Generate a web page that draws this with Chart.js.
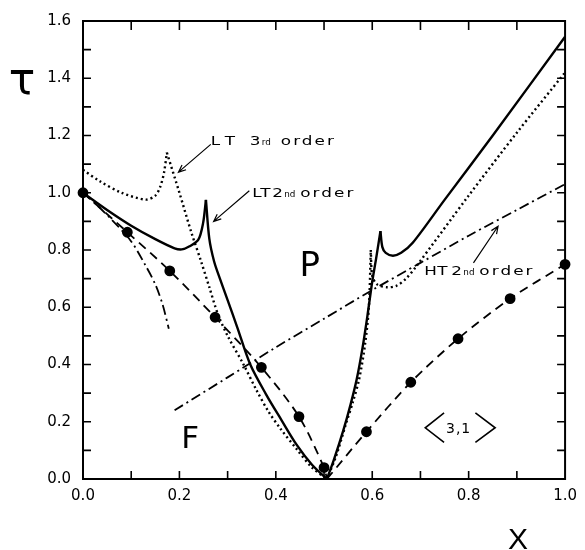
<!DOCTYPE html>
<html lang="en">
<head>
  <meta charset="UTF-8" />
  <title>Phase diagram &lt;3,1&gt;</title>
  <script src="https://cdn.jsdelivr.net/npm/chart.js"></script>
  <style>
    body { margin: 0; background: #fff; }
    #wrap { width: 585px; height: 550px; }
  </style>
</head>
<body>
  <div id="wrap"><canvas id="phaseChart"></canvas></div>

  <script>
    // LT 2nd order (solid), four pieces split at the cusps and at the V
    const lt2aX = [0, 0.05, 0.10, 0.15, 0.19, 0.205, 0.22, 0.239, 0.249, 0.255];
    const lt2aY = [1.0, 0.94, 0.885, 0.838, 0.806, 0.802, 0.812, 0.835, 0.893, 0.975];
    const lt2bX = [0.255, 0.262, 0.272, 0.284, 0.30, 0.32, 0.347, 0.38, 0.412, 0.443, 0.475, 0.506];
    const lt2bY = [0.975, 0.84, 0.76, 0.70, 0.625, 0.53, 0.40, 0.295, 0.205, 0.12, 0.05, 0];
    const lt2cX = [0.506, 0.52, 0.54, 0.555, 0.568, 0.58, 0.59, 0.60, 0.608, 0.617];
    const lt2cY = [0, 0.065, 0.17, 0.26, 0.35, 0.46, 0.57, 0.69, 0.77, 0.866];
    const lt2dX = [0.617, 0.621, 0.628, 0.643, 0.66, 0.684, 0.75, 0.85, 1.0];
    const lt2dY = [0.866, 0.81, 0.79, 0.78, 0.79, 0.825, 0.975, 1.20, 1.545];

    // LT 3rd order (dotted)
    const lt3aX = [0, 0.035, 0.08, 0.13, 0.15, 0.16, 0.168, 0.174];
    const lt3aY = [1.08, 1.04, 1.0, 0.976, 0.99, 1.02, 1.07, 1.14];
    const lt3bX = [0.174, 0.20, 0.225, 0.245, 0.262, 0.28, 0.30, 0.333, 0.36, 0.385, 0.41, 0.443, 0.475, 0.506];
    const lt3bY = [1.14, 1.0, 0.86, 0.76, 0.67, 0.575, 0.50, 0.40, 0.31, 0.235, 0.175, 0.105, 0.04, 0];
    const lt3cX = [0.506, 0.525, 0.545, 0.56, 0.573, 0.585, 0.593, 0.597];
    const lt3cY = [0, 0.08, 0.19, 0.27, 0.35, 0.47, 0.60, 0.80];
    const lt3dX = [0.597, 0.60, 0.61, 0.63, 0.65, 0.67, 0.69, 0.80, 0.90, 1.0];
    const lt3dY = [0.80, 0.71, 0.68, 0.67, 0.675, 0.70, 0.74, 0.99, 1.21, 1.42];

    // dash-dot curves: short one from (0,1) and the HT 2nd order line
    const ddShortX = [0, 0.03, 0.06, 0.10, 0.13, 0.15, 0.165, 0.178];
    const ddShortY = [1.0, 0.955, 0.905, 0.83, 0.745, 0.68, 0.61, 0.525];
    const ht2X = [0.19, 0.30, 0.40, 0.50, 0.60, 0.70, 0.80, 0.90, 1.0];
    const ht2Y = [0.24, 0.355, 0.46, 0.56, 0.66, 0.755, 0.85, 0.94, 1.03];

    // dashed curves with filled dots (0 = no dot at that point)
    const mcLeftX = [0, 0.092, 0.18, 0.274, 0.37, 0.448, 0.50, 0.506];
    const mcLeftY = [1.0, 0.862, 0.727, 0.565, 0.39, 0.218, 0.04, 0];
    const mcLeftDot = [1, 1, 1, 1, 1, 1, 1, 0];
    const mcRightX = [0.506, 0.588, 0.68, 0.778, 0.886, 1.0];
    const mcRightY = [0, 0.165, 0.338, 0.49, 0.63, 0.75];
    const mcRightDot = [0, 1, 1, 1, 1, 1];

    const xTicks = [0, 0.2, 0.4, 0.6, 0.8, 1.0];
    const yTicks = [0, 0.2, 0.4, 0.6, 0.8, 1.0, 1.2, 1.4, 1.6];

    const pts = (xs, ys) => xs.map((v, i) => ({ x: v, y: ys[i] }));

    function curve(xs, ys, width, dash) {
      return {
        data: pts(xs, ys),
        showLine: true,
        borderColor: '#000',
        borderWidth: width,
        borderDash: dash,
        pointRadius: 0,
        tension: 0.3,
        clip: false
      };
    }

    function dotted(xs, ys, dots) {
      const d = curve(xs, ys, 1.8, [9, 6]);
      d.pointRadius = dots.map(k => k ? 4.5 : 0);
      d.pointBackgroundColor = '#000';
      d.pointBorderColor = '#000';
      return d;
    }

    const SOLID = [];
    const DOTS = [2, 3];
    const DASHDOT = [10, 4, 2, 4];

    const datasets = [
      curve(lt2aX, lt2aY, 2.4, SOLID),
      curve(lt2bX, lt2bY, 2.4, SOLID),
      curve(lt2cX, lt2cY, 2.4, SOLID),
      curve(lt2dX, lt2dY, 2.4, SOLID),
      curve(lt3aX, lt3aY, 2.4, DOTS),
      curve(lt3bX, lt3bY, 2.4, DOTS),
      curve(lt3cX, lt3cY, 2.4, DOTS),
      curve(lt3dX, lt3dY, 2.4, DOTS),
      curve(ddShortX, ddShortY, 1.8, DASHDOT),
      curve(ht2X, ht2Y, 1.8, DASHDOT),
      dotted(mcLeftX, mcLeftY, mcLeftDot),
      dotted(mcRightX, mcRightY, mcRightDot)
    ];

    function tickLabel(list) {
      return function (v) {
        return list.some(t => Math.abs(t - v) < 1e-6) ? v.toFixed(1) : '';
      };
    }

    // wide lettering like the original plotter font: pieces of [text, px offset, size]
    function label(ctx, x0, y0, parts) {
      parts.forEach(([t, dx, size]) => {
        const small = size < 10;
        ctx.save();
        ctx.translate(x0 + dx, y0);
        ctx.scale(small ? 1.1 : 1.4, 1);
        ctx.font = size + 'px "DejaVu Sans"';
        ctx.letterSpacing = small ? '0px' : '1.5px';
        ctx.fillText(t, 0, 0);
        ctx.restore();
      });
    }

    function arrow(ctx, x1, y1, x2, y2) {
      const a = Math.atan2(y2 - y1, x2 - x1);
      ctx.beginPath();
      ctx.moveTo(x1, y1);
      ctx.lineTo(x2, y2);
      ctx.moveTo(x2 - 8 * Math.cos(a - 0.4), y2 - 8 * Math.sin(a - 0.4));
      ctx.lineTo(x2, y2);
      ctx.lineTo(x2 - 8 * Math.cos(a + 0.4), y2 - 8 * Math.sin(a + 0.4));
      ctx.stroke();
    }

    const frame = {
      id: 'frame',
      afterDraw(chart) {
        const { ctx, chartArea: a, scales: { x, y } } = chart;
        const X = v => x.getPixelForValue(v);
        const Y = v => y.getPixelForValue(v);
        ctx.save();
        ctx.strokeStyle = '#000';
        ctx.fillStyle = '#000';
        ctx.lineWidth = 2;
        ctx.strokeRect(a.left, a.top, a.right - a.left, a.bottom - a.top);

        ctx.lineWidth = 1.6;
        ctx.beginPath();
        for (let i = 1; i < 10; i++) {
          const px = X(i / 10);
          ctx.moveTo(px, a.bottom); ctx.lineTo(px, a.bottom - 8);
          ctx.moveTo(px, a.top); ctx.lineTo(px, a.top + 9);
        }
        for (let i = 1; i < 16; i++) {
          const py = Y(i / 10);
          ctx.moveTo(a.left, py); ctx.lineTo(a.left + 8, py);
          ctx.moveTo(a.right, py); ctx.lineTo(a.right - 8, py);
        }
        ctx.stroke();

        // curve labels and arrows
        ctx.textBaseline = 'alphabetic';
        ctx.textAlign = 'left';
        ctx.lineWidth = 1.2;
        label(ctx, X(0.265), Y(1.166), [['L', 0, 12], ['T', 14, 12], ['3', 39, 12], ['rd', 51, 8], ['order', 70, 12]]);
        arrow(ctx, X(0.265), Y(1.169), X(0.198), Y(1.072));
        label(ctx, X(0.351), Y(0.986), [['L', 0, 12], ['T', 8, 12], ['2', 20, 12], ['nd', 32, 8], ['order', 48, 12]]);
        arrow(ctx, X(0.345), Y(1.007), X(0.271), Y(0.90));
        label(ctx, X(0.708), Y(0.714), [['H', 0, 12], ['T', 13, 12], ['2', 27, 12], ['nd', 39, 8], ['order', 55, 12]]);
        arrow(ctx, X(0.81), Y(0.755), X(0.861), Y(0.883));

        // phase labels
        ctx.font = '34px "DejaVu Sans"';
        ctx.fillText('P', X(0.449), Y(0.71));
        ctx.font = '31px "DejaVu Sans"';
        ctx.fillText('F', X(0.204), Y(0.107));

        // <3,1>
        ctx.lineWidth = 1.6;
        ctx.beginPath();
        ctx.moveTo(X(0.749), Y(0.231)); ctx.lineTo(X(0.710), Y(0.179)); ctx.lineTo(X(0.749), Y(0.128));
        ctx.moveTo(X(0.814), Y(0.231)); ctx.lineTo(X(0.855), Y(0.179)); ctx.lineTo(X(0.814), Y(0.128));
        ctx.stroke();
        ctx.font = '14px "DejaVu Sans"';
        ctx.letterSpacing = '1px';
        ctx.fillText('3,1', X(0.753), Y(0.159));
        ctx.letterSpacing = '0px';

        // axis symbols
        ctx.textAlign = 'center';
        ctx.textBaseline = 'middle';
        ctx.font = '44px "DejaVu Sans"';
        ctx.fillText('τ', a.left - 61, a.top + 62);
        ctx.font = '30px "Liberation Sans"';
        ctx.fillText('X', a.right - 47, a.bottom + 62);
        ctx.restore();
      }
    };

    const ctx = document.getElementById('phaseChart').getContext('2d');
    new Chart(ctx, {
      type: 'scatter',
      data: { datasets: datasets },
      options: {
        responsive: true,
        maintainAspectRatio: false,
        animation: false,
        events: [],
        layout: { padding: { top: 15, right: 12, left: 0, bottom: 0 } },
        plugins: { legend: { display: false }, tooltip: { enabled: false } },
        scales: {
          x: {
            type: 'linear',
            min: 0,
            max: 1,
            grid: { display: false, drawTicks: false },
            border: { display: false },
            afterFit: s => { s.height = 71; },
            ticks: {
              stepSize: 0.1,
              autoSkip: false,
              maxRotation: 0,
              padding: 8,
              color: '#000',
              font: { family: 'DejaVu Sans', size: 15 },
              callback: tickLabel(xTicks)
            }
          },
          y: {
            type: 'linear',
            min: 0,
            max: 1.6,
            grid: { display: false, drawTicks: false },
            border: { display: false },
            afterFit: s => { s.width = 83; },
            ticks: {
              stepSize: 0.1,
              autoSkip: false,
              padding: 12,
              color: '#000',
              font: { family: 'DejaVu Sans', size: 15 },
              callback: tickLabel(yTicks)
            }
          }
        }
      },
      plugins: [frame]
    });
  </script>
</body>
</html>
